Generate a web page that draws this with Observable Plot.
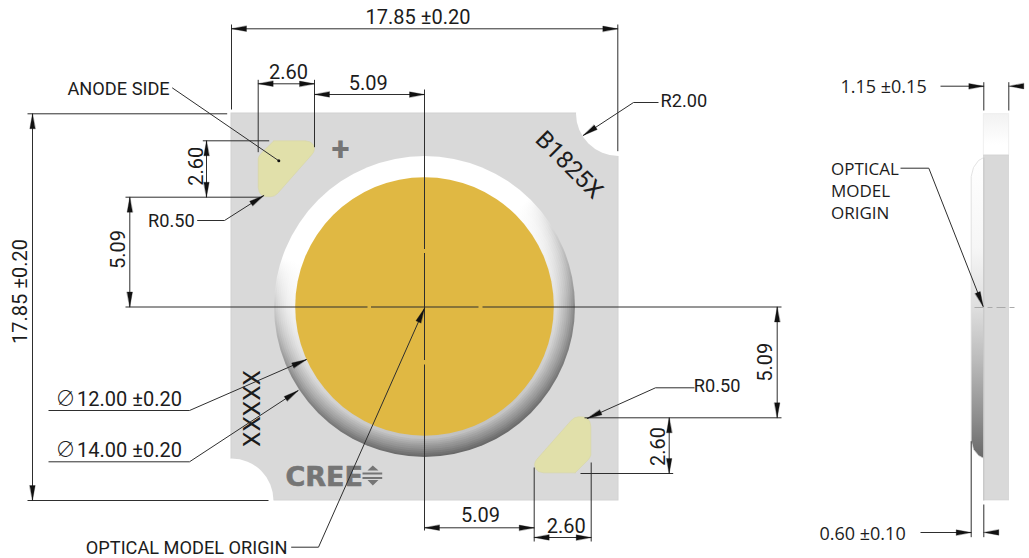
<!DOCTYPE html>
<html>
<head>
<meta charset="utf-8">
<style>html,body{margin:0;padding:0;background:#fff}svg{display:block}</style>
<script src="https://cdn.jsdelivr.net/npm/d3@7"></script>
<script src="https://cdn.jsdelivr.net/npm/@observablehq/plot@0.6"></script>
</head>
<body>
<script>
// Drawing values (drawing units)
const board = [[231, 113, 618, 500]];
const notches = [[618, 113, 42.5], [231, 500, 42]];
const centre = [[424, 306]];
const emitterR = 129.3;
const padAnode = [[273.3,140.3],[305,140.3],[310,141.5],[313,144.5],[314,148.3],[313.2,151.5],[311.5,154],[277.3,192.7],[274,195.3],[270,196.3],[264.5,196.1],[261,194.5],[258.7,191.5],[257.7,187],[257.7,158],[258.7,155.5],[260.5,153]];
const padCathode = [[574.7,472.3],[543,472.3],[538,471.1],[535,468.1],[534,464.3],[534.8,461.1],[536.5,458.6],[570.7,419.9],[574,417.3],[578,416.3],[583.5,416.5],[587,418.1],[589.3,421.1],[590.3,425.6],[590.3,454.6],[589.3,457.1],[587.5,459.6]];

// Bevel of the ring: radius, then grey levels from the top to the bottom of each circle
const ringRadii = [150.5, 148.5, 146.5, 144.5, 142.5, 140.5, 138.5, 136.5, 134.5, 132.5];
const ringTone1 = [206, 214, 220, 226, 230, 234, 238, 240, 242, 244];
const ringTone2 = [138, 150, 162, 172, 182, 190, 198, 206, 214, 220];
const ringTone3 = [104, 112, 122, 132, 142, 150, 160, 170, 180, 192];

const sideStrip = [[983.3, 155, 1008.7, 500]];
const sideStripTop = [[983.3, 113.7, 1008.7, 155]];
const sideLens = [[983.3,157],[978,160],[973,167],[970.7,176],[970.7,440],[973,449],[978,455],[983.3,458]];
const sideDash = [[974, 307, 1017, 307]];
const sideEdge = [[983.3, 157, 983.3, 500]];

const creeBars = [[362, 473, 381.7, 473], [362, 477.5, 381.7, 477.5]];
const creeUp = [[372.3,465],[378,470],[367,470]];
const creeDown = [[372.3,485],[378,479.6],[367,479.6]];

// Extension, dimension and leader segments: x1, y1, x2, y2
const segments = [
  [231,24,231,109],[617.3,24,617.3,150.7],[231,28.3,617.3,28.3],
  [257.7,79.3,257.7,151.7],[314,79.3,314,146.7],[257.7,83.3,314,83.3],
  [314,94,424,94],
  [424,89,424,248.5],[424,252.5,424,359.5],[424,364,424,530],
  [125,306.5,367,306.5],[370.5,306.5,478,306.5],[482,306.5,781,306.5],
  [27,113.3,226.7,113.3],[27,500,268,500],[32,113.3,32,500],
  [202.3,140.3,268.7,140.3],[206,140.3,206,196.7],
  [125,196.7,260,196.7],[129.3,196.7,129.3,306.5],
  [776.7,306.5,776.7,417.3],[584,417.3,781,417.3],
  [668.7,417.3,668.7,473],[580,473,672.7,473],
  [424,527.3,533.7,527.3],[533.7,467,533.7,541],[590.7,462,590.7,541],[533.7,537,590.7,537],
  [171.7,87.3,278.3,160.3],
  [196.7,220,224,220],[224,220,263.3,195],
  [658,102,633,102],[633,102,582.7,135],
  [694,387.3,655,387.3],[655,387.3,586.7,418],
  [48,410,189,410],[189,410,306,359],
  [48,461.3,189,461.3],[189,461.3,297.7,390],
  [290.7,546.7,318,546.7],[318,546.7,424,307.7],
  [940,85.7,983.3,85.7],[983.3,81.7,983.3,110],[1008.3,81.7,1008.3,110],
  [900,167.7,928.3,167.7],[928.3,167.7,982.7,306],
  [920,532,970.7,532],[970.7,440.7,970.7,536.7],[983.3,504,983.3,536.7]
];

// Arrowheads: tip x, tip y, then a point on the shaft behind the tip
const arrows = [
  [231,28.3,260,28.3],[617.3,28.3,590,28.3],
  [257.7,83.3,280,83.3],[314,83.3,290,83.3],
  [314,94,340,94],[424,94,400,94],
  [32,113.3,32,140],[32,500,32,470],
  [206,140.3,206,165],[206,196.7,206,170],
  [129.3,196.7,129.3,225],[129.3,306.5,129.3,280],
  [776.7,306.5,776.7,340],[776.7,417.3,776.7,390],
  [668.7,417.3,668.7,440],[668.7,473,668.7,450],
  [424,527.3,450,527.3],[533.7,527.3,510,527.3],
  [533.7,537,555,537],[590.7,537,570,537],
  [263.3,195,224,220],[582.7,135,633,102],[586.7,418,655,387.3],
  [306,359,189,410],[297.7,390,189,461.3],[424,307.7,318,546.7],
  [983.3,85.7,940,85.7],[1008.3,85.7,1030,85.7],
  [982.7,306,928.3,167.7],[970.7,532,920,532],[983.3,532,1010,532]
];
const leaderEnd = [[278.3, 160.3]];

// Labels: text, x, y, anchor, rotation
const roboto = [
  ["17.85 ±0.20",417.5,23.5,"middle",0],
  ["2.60",288,78.3,"middle",0],
  ["5.09",367.7,89,"middle",0],
  ["5.09",480,521.7,"middle",0],
  ["2.60",565.7,532,"middle",0],
  ["17.85 ±0.20",26.7,291,"middle",-90],
  ["5.09",124.3,249,"middle",-90],
  ["2.60",202,165.7,"middle",-90],
  ["5.09",771.7,361.7,"middle",-90],
  ["2.60",664,446,"middle",-90],
  ["12.00 ±0.20",76.5,405.7,"start",0],
  ["14.00 ±0.20",76.5,456.7,"start",0]
];
const robotoSmall = [
  ["ANODE SIDE",67,94,"start",0],
  ["R0.50",147.5,226.7,"start",0],
  ["R2.00",660,106,"start",0],
  ["R0.50",693.3,391.7,"start",0],
  ["OPTICAL MODEL ORIGIN",85.3,553,"start",0]
];
const openSansDim = [
  ["1.15 ±0.15",840,92.7,"start",0],
  ["0.60 ±0.10",819,539,"start",0]
];
const openSansLabel = [
  ["OPTICAL",830.5,174.3,"start",0],
  ["MODEL",830.5,196,"start",0],
  ["ORIGIN",830.5,218.3,"start",0]
];
const diameters = [["∅",55,405.7],["∅",55,456.7]];

const grey = v => `rgb(${v},${v},${v})`;
const defs = () => {
  const d = d3.create("svg:defs");
  const linear = (id, stops, x1, y1, x2, y2) => {
    const g = d.append("linearGradient").attr("id", id)
      .attr("x1", x1).attr("y1", y1).attr("x2", x2).attr("y2", y2);
    for (const [o, c] of stops) g.append("stop").attr("offset", o).attr("stop-color", c);
  };
  ringRadii.forEach((r, i) => linear(`ring${i}`, [
    [0.24, "#fff"], [0.38, grey(ringTone1[i])], [0.62, grey(ringTone2[i])], [1, grey(ringTone3[i])]
  ], 0.38, 0, 0.62, 1));
  linear("lens", [[0,"#fff"],[0.3,"#f6f6f6"],[0.5,"#dedede"],[0.67,"#bcbcbc"],[0.87,"#8c8c8c"],[1,"#686868"]],0,0,0,1);
  linear("stripTop", [[0,"#f2f2f2"],[0.75,"#fff"],[1,"#fff"]],0,0,0,1);
  return d.node();
};

const rectOf = (rows, o) => Plot.rect(rows, {x1: d => d[0], y1: d => d[1], x2: d => d[2], y2: d => d[3], ...o});
const linkOf = (rows, o) => Plot.link(rows, {x1: d => d[0], y1: d => d[1], x2: d => d[2], y2: d => d[3], ...o});
const polyOf = (rows, o) => Plot.line([...rows, rows[0]], {x: d => d[0], y: d => d[1], ...o});
const labels = (rows, o) => ["start", "middle"].map(a => Plot.text(rows.filter(d => d[3] === a), {
  text: d => d[0], x: d => d[1], y: d => d[2], rotate: d => d[4], textAnchor: a,
  lineAnchor: "bottom", fill: "#1c1c1c", ...o
}));

const arrowShape = {draw(c, l) { c.moveTo(0, 0); c.lineTo(-2.7, l); c.lineTo(2.7, l); c.closePath(); }};

const chart = Plot.plot({
  width: 1029, height: 558, margin: 0,
  x: {domain: [0, 1029], range: [0, 1029], axis: null},
  y: {domain: [0, 558], range: [0, 558], axis: null},
  style: {background: "#fff"},
  marks: [
    defs,
    rectOf(board, {fill: "#d9d9d9", stroke: "#d2d2d2", strokeWidth: 1}),
    ...notches.map(n => Plot.dot([n], {x: d => d[0], y: d => d[1], r: n[2], fill: "#fff", stroke: null})),
    ...ringRadii.map((r, i) => Plot.dot(centre, {x: d => d[0], y: d => d[1], r, fill: `url(#ring${i})`, stroke: null})),
    Plot.dot(centre, {x: d => d[0], y: d => d[1], r: emitterR, fill: "#e0b843", stroke: null}),
    polyOf(padAnode, {fill: "#e1e0aa", stroke: "#d6d5a6", strokeWidth: 0.6}),
    polyOf(padCathode, {fill: "#e1e0aa", stroke: "#d6d5a6", strokeWidth: 0.6}),
    rectOf(sideStripTop, {fill: "url(#stripTop)", stroke: "#ececec", strokeWidth: 0.8}),
    rectOf(sideStrip, {fill: "#d9d9d9", stroke: "#d0d0d0", strokeWidth: 0.6}),
    polyOf(sideLens, {fill: "url(#lens)", stroke: "#dcdcdc", strokeWidth: 0.8}),
    linkOf(sideEdge, {stroke: "#c4c4c4", strokeWidth: 1}),
    linkOf(sideDash, {stroke: "#aaa", strokeWidth: 1, strokeDasharray: "9 4 5 4"}),

    ...labels(roboto, {fontFamily: "Roboto", fontSize: 20}),
    ...labels(robotoSmall, {fontFamily: "Roboto", fontSize: 18.2}),
    ...labels(openSansDim, {fontFamily: "'Open Sans'", fontSize: 18}),
    ...labels(openSansLabel, {fontFamily: "'Open Sans'", fontSize: 17}),
    Plot.text(diameters, {text: d => d[0], x: d => d[1], y: d => d[2], textAnchor: "start", lineAnchor: "bottom",
      fontFamily: "Noto Sans CJK JP", fontWeight: 300, fontSize: 20, fill: "#1c1c1c"}),
    Plot.text(["XXXXX"], {x: [252], y: [408], rotate: -90, fontFamily: "Roboto", fontSize: 24.5, fill: "#1c1c1c", textAnchor: "middle", lineAnchor: "middle"}),
    Plot.text(["B1825X"], {x: [568.5], y: [164.5], rotate: 45, fontFamily: "Roboto", fontSize: 24, fill: "#1c1c1c", textAnchor: "middle", lineAnchor: "middle"}),
    Plot.text(["CREE"], {x: [285], y: [485], fontFamily: "DejaVu Sans", fontWeight: "bold", fontSize: 27, fill: "#757575", stroke: "#757575", strokeWidth: 0.6, textAnchor: "start", lineAnchor: "bottom"}),
    Plot.text(["+"], {x: [340], y: [149], fontFamily: "Roboto", fontWeight: "bold", fontSize: 33, fill: "#757575", textAnchor: "middle", lineAnchor: "middle"}),
    polyOf(creeUp, {fill: "#757575", stroke: null}),
    polyOf(creeDown, {fill: "#757575", stroke: null}),
    linkOf(creeBars, {stroke: "#757575", strokeWidth: 2}),

    linkOf(segments, {stroke: "#2e2e2e", strokeWidth: 1}),
    Plot.vector(arrows, {
      x: d => d[0], y: d => d[1], length: 15, anchor: "start", shape: arrowShape,
      rotate: d => Math.atan2(-(d[2] - d[0]), d[3] - d[1]) * 180 / Math.PI,
      fill: "#111", stroke: "#111", strokeWidth: 0.3
    }),
    Plot.dot(leaderEnd, {x: d => d[0], y: d => d[1], r: 1.5, fill: "#111", stroke: null})
  ]
});
document.body.append(chart);
</script>
</body>
</html>
